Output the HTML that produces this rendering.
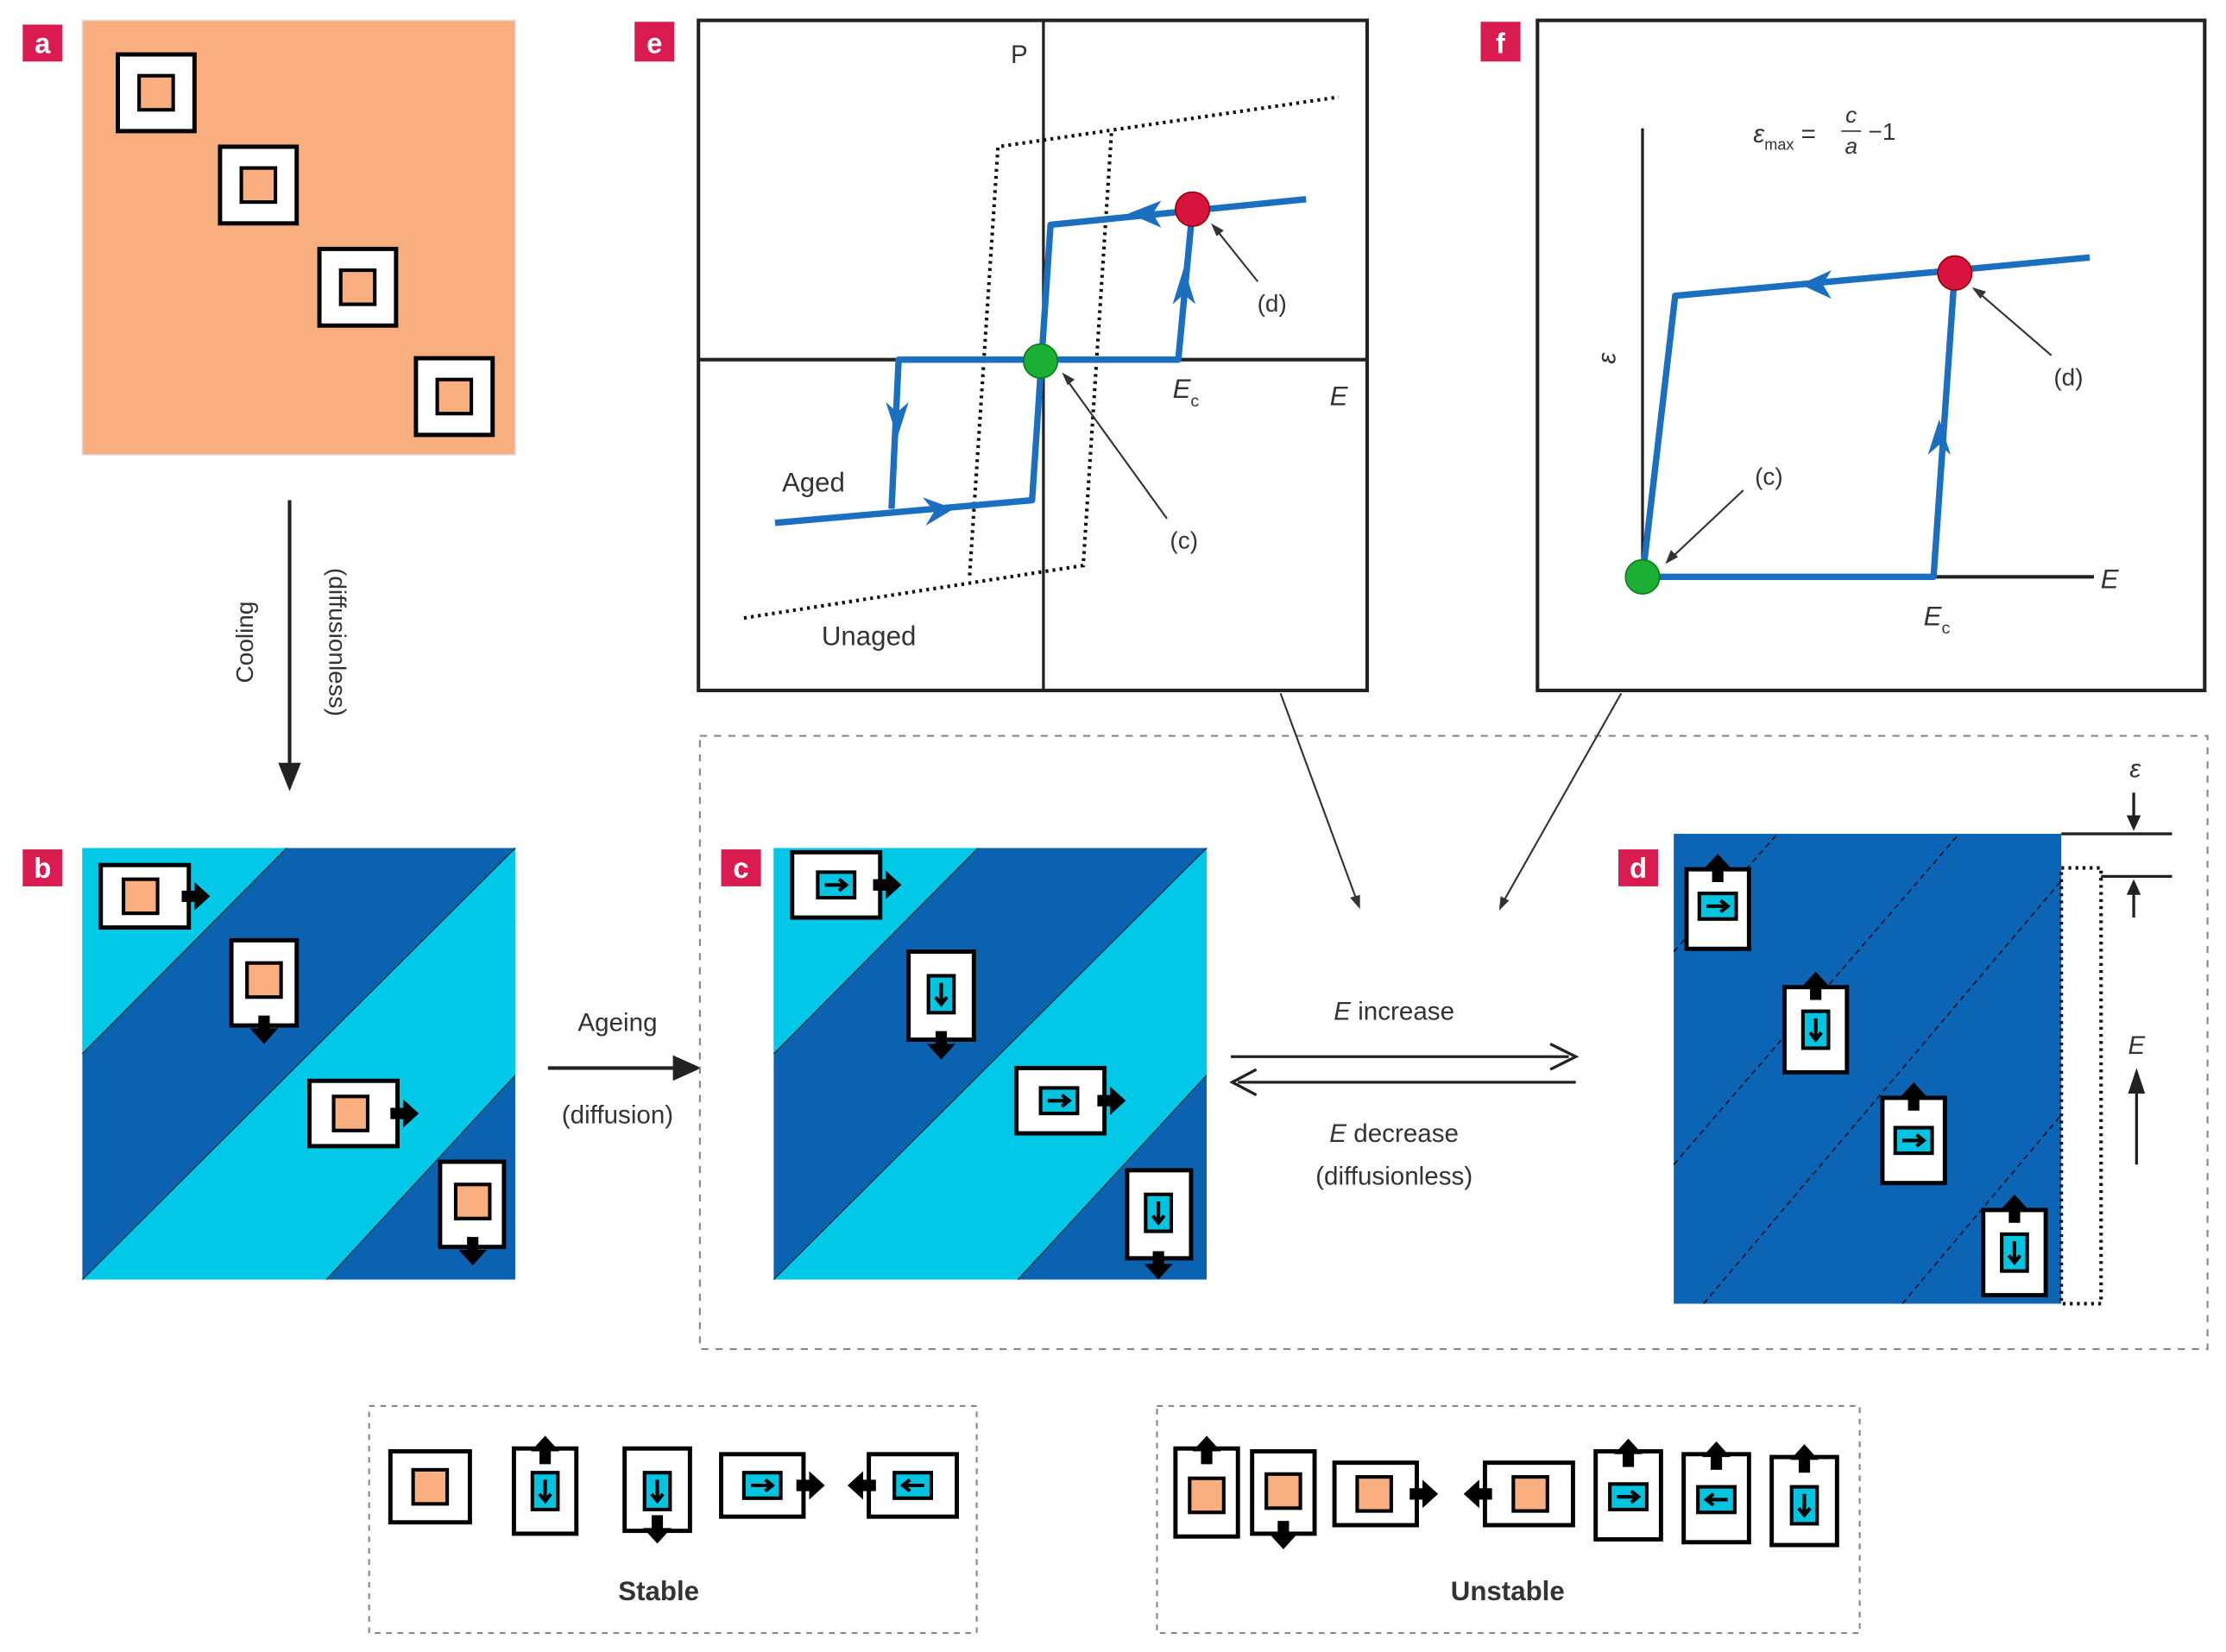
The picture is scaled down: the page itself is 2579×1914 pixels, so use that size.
<!DOCTYPE html>
<html><head><meta charset="utf-8"><style>
html,body{margin:0;padding:0;background:#fff}
svg{display:block}
text{font-family:"Liberation Sans",sans-serif;fill:#333}
</style></head><body>
<svg width="2579" height="1914" viewBox="0 0 1568 1163" xmlns="http://www.w3.org/2000/svg">
<defs>
<path id="ar" d="M-1,-4 L8,-4 L8,-10 L19,0 L8,10 L8,4 L-1,4Z" fill="#000"/>
<g id="cy"><rect x="-13" y="-9" width="26" height="18" fill="#00c4e0" stroke="#000" stroke-width="2.5"/><path d="M-8,0 L6,0 M2,-4 L7,0 L2,4" stroke="#000" stroke-width="2.5" fill="none"/></g>
<g id="cyv"><rect x="-9" y="-13" width="18" height="26" fill="#00c4e0" stroke="#000" stroke-width="2.5"/><path d="M0,-8 L0,6 M-4,2 L0,7 L4,2" stroke="#000" stroke-width="2.5" fill="none"/></g>
<rect id="or" x="-12" y="-12" width="24" height="24" fill="#f9ae7f" stroke="#000" stroke-width="2.5"/>
</defs>
<rect width="1568" height="1163" fill="#fff"/>

<!-- labels -->
<g fill="#d91b4f">
<rect x="16" y="17" width="28" height="26"/><rect x="447" y="15" width="28" height="28"/><rect x="1043" y="15" width="28" height="28"/>
<rect x="16" y="598" width="28" height="26"/><rect x="508" y="598" width="28" height="26"/><rect x="1140" y="598" width="28" height="26"/>
</g>
<g font-weight="bold" font-size="20" text-anchor="middle">
<text x="30" y="37" style="fill:#fff">a</text><text x="461" y="37" style="fill:#fff">e</text><text x="1057" y="37" style="fill:#fff">f</text>
<text x="30" y="618" style="fill:#fff">b</text><text x="522" y="618" style="fill:#fff">c</text><text x="1154" y="618" style="fill:#fff">d</text>
</g>

<!-- panel a -->
<rect x="58" y="14" width="305" height="306" fill="#f9ae7f" stroke="#ddd"/>
<g fill="#fff" stroke="#000" stroke-width="3">
<rect x="83" y="38" width="54" height="54"/><rect x="155" y="103" width="54" height="54"/><rect x="225" y="175" width="54" height="54"/><rect x="293" y="252" width="54" height="54"/>
</g>
<use href="#or" x="110" y="65"/><use href="#or" x="182" y="130"/><use href="#or" x="252" y="202"/><use href="#or" x="320" y="279"/>

<!-- cooling -->
<line x1="204" y1="352" x2="204" y2="540" stroke="#222" stroke-width="2.5"/>
<path d="M196,537 L204,557 L212,537Z" fill="#222"/>
<text x="178" y="452" font-size="17" text-anchor="middle" transform="rotate(-90 178 452)">Cooling</text>
<text x="232" y="452" font-size="17" text-anchor="middle" transform="rotate(90 232 452)">(diffusionless)</text>

<!-- panel b -->
<g id="stripes">
<rect x="58" y="597" width="305" height="304" fill="#0a62b0"/>
<path d="M58,597 L202,597 L58,742Z" fill="#00c8e6"/>
<path d="M363,597 L363,757 L230,901 L58,901Z" fill="#00c8e6"/>
<path d="M58,742 L202,597 M363,597 L58,901 M363,757 L230,901" stroke="#034" stroke-width="0.8" fill="none"/>
</g>
<g fill="#fff" stroke="#000" stroke-width="3">
<rect x="71" y="609" width="62" height="44"/><rect x="163" y="662" width="46" height="60"/><rect x="218" y="761" width="62" height="46"/><rect x="310" y="818" width="45" height="60"/>
</g>
<use href="#or" x="99" y="631"/><use href="#or" x="186" y="690"/><use href="#or" x="247" y="784"/><use href="#or" x="333" y="846"/>
<use href="#ar" transform="translate(129,631)"/><use href="#ar" transform="translate(186,716) rotate(90)"/><use href="#ar" transform="translate(276,784)"/><use href="#ar" transform="translate(333,872) rotate(90)"/>

<!-- ageing -->
<line x1="386" y1="752" x2="478" y2="752" stroke="#222" stroke-width="2.5"/>
<path d="M474,743 L494,752 L474,761Z" fill="#222"/>
<text x="435" y="726" font-size="18" text-anchor="middle">Ageing</text>
<text x="435" y="791" font-size="18" text-anchor="middle">(diffusion)</text>

<!-- dashed container -->
<rect x="493" y="518" width="1062" height="432" fill="none" stroke="#888" stroke-width="1.3" stroke-dasharray="5,5"/>

<!-- panel c -->
<use href="#stripes" x="487"/>
<g fill="#fff" stroke="#000" stroke-width="3">
<rect x="558" y="600" width="62" height="46"/><rect x="640" y="670" width="46" height="62"/><rect x="716" y="752" width="62" height="46"/><rect x="794" y="824" width="45" height="62"/>
</g>
<use href="#cy" x="589" y="623"/><use href="#cyv" x="663" y="700"/><use href="#cy" x="746" y="775"/><use href="#cyv" x="816" y="854"/>
<use href="#ar" transform="translate(616,623)"/><use href="#ar" transform="translate(663,727) rotate(90)"/><use href="#ar" transform="translate(774,775)"/><use href="#ar" transform="translate(816,882) rotate(90)"/>

<!-- E increase/decrease -->
<line x1="867" y1="744" x2="1105" y2="744" stroke="#222" stroke-width="2"/>
<path d="M1092,735 L1110,744 L1092,753" stroke="#222" stroke-width="2" fill="none"/>
<line x1="872" y1="762" x2="1110" y2="762" stroke="#222" stroke-width="2"/>
<path d="M885,753 L868,762 L885,771" stroke="#222" stroke-width="2" fill="none"/>
<text x="982" y="718" font-size="18" text-anchor="middle"><tspan font-style="italic">E</tspan> increase</text>
<text x="982" y="804" font-size="18" text-anchor="middle"><tspan font-style="italic">E</tspan> decrease</text>
<text x="982" y="834" font-size="18" text-anchor="middle">(diffusionless)</text>

<!-- panel d -->
<rect x="1179" y="587" width="273" height="331" fill="#0c64b4"/>
<g stroke="#012" stroke-width="1" stroke-dasharray="4,3">
<line x1="1179" y1="670" x2="1252" y2="587"/><line x1="1179" y1="820" x2="1380" y2="587"/><line x1="1200" y1="918" x2="1452" y2="620"/><line x1="1340" y1="918" x2="1452" y2="785"/>
</g>
<g fill="#fff" stroke="#000" stroke-width="3">
<rect x="1188" y="612" width="44" height="56"/><rect x="1257" y="695" width="44" height="60"/><rect x="1326" y="773" width="44" height="60"/><rect x="1397" y="852" width="44" height="60"/>
</g>
<use href="#cy" x="1210" y="638"/><use href="#cyv" x="1279" y="725"/><use href="#cy" x="1348" y="803"/><use href="#cyv" x="1419" y="882"/>
<use href="#ar" transform="translate(1210,620) rotate(-90)"/><use href="#ar" transform="translate(1279,703) rotate(-90)"/><use href="#ar" transform="translate(1348,781) rotate(-90)"/><use href="#ar" transform="translate(1419,860) rotate(-90)"/>
<rect x="1452" y="611" width="28" height="307" fill="none" stroke="#111" stroke-width="2.5" stroke-dasharray="2,3"/>
<line x1="1452" y1="587" x2="1530" y2="587" stroke="#222" stroke-width="2"/>
<line x1="1480" y1="617" x2="1530" y2="617" stroke="#222" stroke-width="2"/>
<line x1="1503" y1="558" x2="1503" y2="578" stroke="#222" stroke-width="2"/><path d="M1498,574 L1503,585 L1508,574Z" fill="#222"/>
<line x1="1503" y1="646" x2="1503" y2="626" stroke="#222" stroke-width="2"/><path d="M1498,630 L1503,619 L1508,630Z" fill="#222"/>
<text x="1504" y="547" font-size="18" font-style="italic" text-anchor="middle">ε</text>
<line x1="1505" y1="820" x2="1505" y2="765" stroke="#222" stroke-width="2"/><path d="M1499,770 L1505,752 L1511,770Z" fill="#222"/>
<text x="1505" y="742" font-size="18" font-style="italic" text-anchor="middle">E</text>

<!-- panel e -->
<rect x="492" y="14" width="471" height="472" fill="none" stroke="#222" stroke-width="2.5"/>
<line x1="735" y1="14" x2="735" y2="486" stroke="#222" stroke-width="2"/>
<line x1="492" y1="253" x2="963" y2="253" stroke="#222" stroke-width="2.5"/>
<g stroke="#111" stroke-width="2.5" stroke-dasharray="2,3" fill="none">
<path d="M524,435 L763,398 L783,92"/><path d="M683,405 L703,103 L943,68"/>
</g>
<g stroke="#1a6fc0" stroke-width="4.5" fill="none" stroke-linejoin="round">
<path d="M546,368 L727,352 L740,158 L920,140"/>
<path d="M628,358 L633,253 L830,253 L840,147"/>
</g>
<g fill="#1a6fc0">
<path d="M624,283 L632,308 L640,283 L632,290Z"/>
<path d="M650,350 L672,358 L652,370 L658,360Z"/>
<path d="M826,214 L834,188 L842,214 L834,207Z"/>
<path d="M818,141 L795,150 L818,160 L812,150Z"/>
</g>
<circle cx="733" cy="254" r="12" fill="#1bb033" stroke="#0a7a1a" stroke-width="1"/>
<circle cx="840" cy="147" r="12" fill="#d8133f" stroke="#900" stroke-width="1"/>
<line x1="886" y1="198" x2="858" y2="163" stroke="#333" stroke-width="1.3"/><path d="M853,157 L862,162 L857,166Z" fill="#333"/>
<line x1="822" y1="365" x2="752" y2="268" stroke="#333" stroke-width="1.3"/><path d="M748,262 L757,267 L752,271Z" fill="#333"/>
<text x="718" y="44" font-size="18" text-anchor="middle">P</text>
<text x="943" y="285" font-size="19" font-style="italic" text-anchor="middle">E</text>
<text x="826" y="280" font-size="19" font-style="italic">E<tspan font-size="12" dy="6" font-style="normal">c</tspan></text>
<text x="573" y="346" font-size="19" text-anchor="middle">Aged</text>
<text x="612" y="454" font-size="19" text-anchor="middle">Unaged</text>
<text x="896" y="219" font-size="17" text-anchor="middle">(d)</text>
<text x="834" y="386" font-size="17" text-anchor="middle">(c)</text>

<!-- panel f -->
<rect x="1083" y="14" width="470" height="472" fill="none" stroke="#222" stroke-width="2.5"/>
<line x1="1157" y1="90" x2="1157" y2="406" stroke="#222" stroke-width="2"/>
<line x1="1157" y1="406" x2="1475" y2="406" stroke="#222" stroke-width="2.5"/>
<text x="1486" y="414" font-size="19" font-style="italic" text-anchor="middle">E</text>
<text x="1138" y="252" font-size="18" font-style="italic" text-anchor="middle" transform="rotate(-90 1138 252)">ε</text>
<text x="1235" y="100" font-size="18" font-style="italic">ε<tspan font-size="11" dy="5" font-style="normal">max</tspan><tspan dy="-5" font-style="normal"> = </tspan></text>
<text x="1304" y="86" font-size="16" font-style="italic" text-anchor="middle">c</text>
<line x1="1297" y1="92" x2="1311" y2="92" stroke="#333" stroke-width="1"/>
<text x="1304" y="108" font-size="16" font-style="italic" text-anchor="middle">a</text>
<text x="1316" y="98" font-size="17">−1</text>
<g stroke="#1a6fc0" stroke-width="4.5" fill="none" stroke-linejoin="round">
<path d="M1157,406 L1180,208 L1377,190 L1472,181"/>
<path d="M1157,406 L1362,406 L1377,190"/>
</g>
<g fill="#1a6fc0">
<path d="M1290,190 L1268,200 L1290,210 L1284,200Z"/>
<path d="M1358,320 L1366,295 L1374,320 L1366,313Z"/>
</g>
<circle cx="1157" cy="406" r="12" fill="#1bb033" stroke="#0a7a1a" stroke-width="1"/>
<circle cx="1377" cy="192" r="12" fill="#d8133f" stroke="#900" stroke-width="1"/>
<line x1="1445" y1="250" x2="1394" y2="206" stroke="#333" stroke-width="1.3"/><path d="M1389,202 L1399,205 L1395,210Z" fill="#333"/>
<line x1="1228" y1="345" x2="1178" y2="392" stroke="#333" stroke-width="1.3"/><path d="M1173,397 L1177,387 L1182,392Z" fill="#333"/>
<text x="1457" y="271" font-size="17" text-anchor="middle">(d)</text>
<text x="1246" y="341" font-size="17" text-anchor="middle">(c)</text>
<text x="1355" y="440" font-size="19" font-style="italic">E<tspan font-size="12" dy="6" font-style="normal">c</tspan></text>

<!-- connectors -->
<line x1="902" y1="488" x2="955" y2="632" stroke="#333" stroke-width="1.3"/><path d="M958,640 L951,632 L958,630Z" fill="#333"/>
<line x1="1142" y1="488" x2="1060" y2="633" stroke="#333" stroke-width="1.3"/><path d="M1056,641 L1057,631 L1063,634Z" fill="#333"/>

<!-- stable -->
<rect x="260" y="990" width="428" height="160" fill="none" stroke="#888" stroke-width="1.3" stroke-dasharray="4,4"/>
<g fill="#fff" stroke="#000" stroke-width="3">
<rect x="275" y="1022" width="56" height="50"/><rect x="362" y="1020" width="44" height="60"/><rect x="440" y="1020" width="46" height="58"/><rect x="508" y="1024" width="58" height="44"/><rect x="612" y="1024" width="62" height="44"/>
</g>
<use href="#or" x="303" y="1047"/><use href="#cyv" x="384" y="1050"/><use href="#cyv" x="463" y="1050"/><use href="#cy" x="537" y="1046"/><use href="#cy" transform="translate(643,1046) scale(-1,1)"/>
<use href="#ar" transform="translate(384,1030) rotate(-90)"/><use href="#ar" transform="translate(463,1068) rotate(90)"/><use href="#ar" transform="translate(562,1046)"/><use href="#ar" transform="translate(616,1046) rotate(180)"/>
<text x="464" y="1127" font-size="19" font-weight="bold" text-anchor="middle">Stable</text>

<!-- unstable -->
<rect x="815" y="990" width="495" height="160" fill="none" stroke="#888" stroke-width="1.3" stroke-dasharray="4,4"/>
<g fill="#fff" stroke="#000" stroke-width="3">
<rect x="828" y="1020" width="44" height="62"/><rect x="882" y="1022" width="44" height="58"/><rect x="940" y="1030" width="58" height="44"/><rect x="1046" y="1030" width="62" height="44"/><rect x="1124" y="1022" width="46" height="62"/><rect x="1186" y="1024" width="46" height="62"/><rect x="1248" y="1026" width="46" height="62"/>
</g>
<use href="#or" x="850" y="1053"/><use href="#or" x="904" y="1050"/><use href="#or" x="968" y="1052"/><use href="#or" x="1078" y="1052"/>
<use href="#cy" x="1147" y="1054"/><use href="#cy" transform="translate(1209,1056) scale(-1,1)"/><use href="#cyv" x="1271" y="1060"/>
<use href="#ar" transform="translate(850,1030) rotate(-90)"/><use href="#ar" transform="translate(904,1072) rotate(90)"/><use href="#ar" transform="translate(994,1052)"/><use href="#ar" transform="translate(1050,1052) rotate(180)"/>
<use href="#ar" transform="translate(1147,1032) rotate(-90)"/><use href="#ar" transform="translate(1209,1034) rotate(-90)"/><use href="#ar" transform="translate(1271,1036) rotate(-90)"/>
<text x="1062" y="1127" font-size="19" font-weight="bold" text-anchor="middle">Unstable</text>
</svg>
</body></html>
